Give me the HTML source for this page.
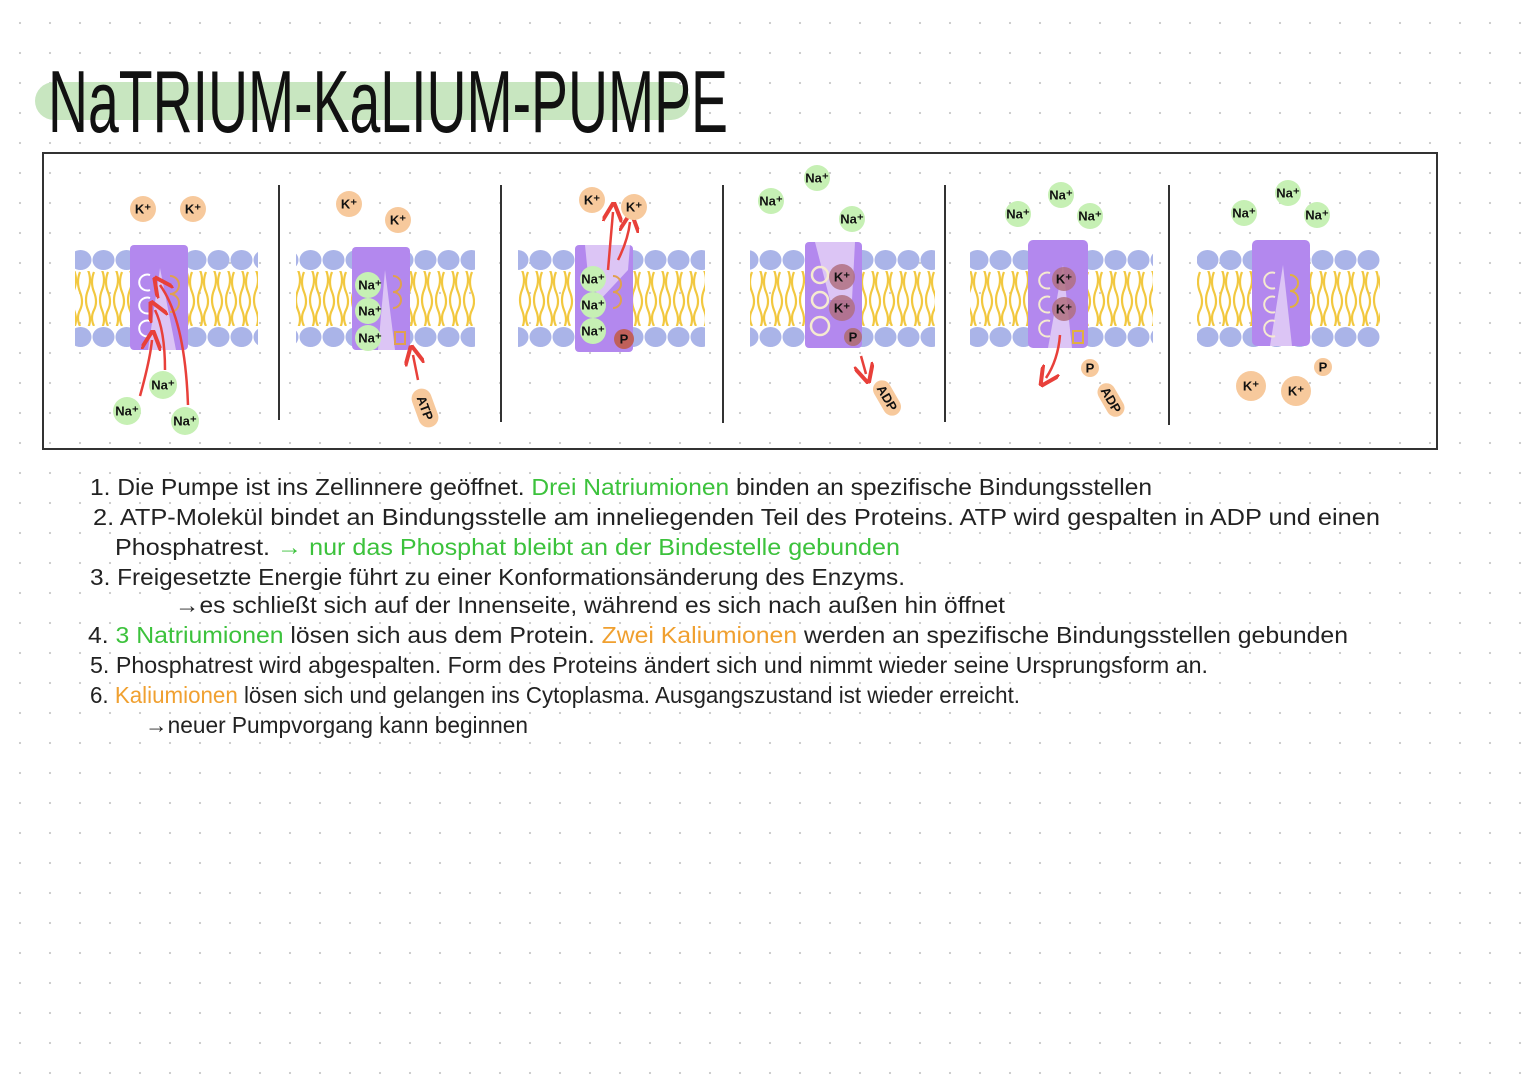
<!DOCTYPE html>
<html><head><meta charset="utf-8"><style>
html,body{margin:0;padding:0;background:#fff}
svg{display:block}
.t{font-family:"Liberation Sans",sans-serif;font-size:23px;fill:#222}
.g{fill:#3cc23c}.o{fill:#f0a030}
.i{font-family:"Liberation Sans",sans-serif;font-size:13px;font-weight:bold;fill:#111;text-anchor:middle;dominant-baseline:central}
</style></head><body>
<svg width="1525" height="1080" viewBox="0 0 1525 1080" xmlns="http://www.w3.org/2000/svg">
<defs>
<pattern id="dots" width="30" height="30" patternUnits="userSpaceOnUse" x="5" y="8"><circle cx="15" cy="15" r="1.1" fill="#c8c8c8"/></pattern>
<pattern id="headsT" width="23" height="22" patternUnits="userSpaceOnUse" y="249"><ellipse cx="11.5" cy="11" rx="11" ry="10" fill="#aab4e8"/></pattern>
<pattern id="headsB" width="23" height="22" patternUnits="userSpaceOnUse" y="326"><ellipse cx="11.5" cy="11" rx="11" ry="10" fill="#aab4e8"/></pattern>
<pattern id="tails" width="14" height="58" patternUnits="userSpaceOnUse" y="270"><path d="M4 0 q4 10 0 20 q-4 10 0 20 q4 10 0 18 M10 2 q-4 10 0 20 q4 10 0 18 q-4 8 0 16" stroke="#f2c840" stroke-width="2.2" fill="none"/></pattern>
<marker id="ar" markerWidth="8" markerHeight="8" refX="4" refY="4" orient="auto"><path d="M0 0 L8 4 L0 8" fill="none" stroke="#e8403a" stroke-width="1.6"/></marker>
</defs>
<rect width="1525" height="1080" fill="url(#dots)"/>
<!-- title -->
<rect x="35" y="82" width="655" height="38" rx="19" fill="#c8e6c0"/>
<text x="48" y="132" font-family="Liberation Sans, sans-serif" font-size="88" fill="#111" textLength="680" lengthAdjust="spacingAndGlyphs">NaTRIUM-KaLIUM-PUMPE</text>
<!-- box -->
<rect x="43" y="153" width="1394" height="296" fill="none" stroke="#333" stroke-width="2"/>
<g stroke="#333" stroke-width="2"><line x1="279" y1="185" x2="279" y2="420"/><line x1="501" y1="185" x2="501" y2="422"/><line x1="723" y1="185" x2="723" y2="423"/><line x1="945" y1="185" x2="945" y2="422"/><line x1="1169" y1="185" x2="1169" y2="425"/></g>
<!-- membranes -->
<g>
<rect x="75" y="249" width="183" height="22" fill="url(#headsT)"/><rect x="75" y="326" width="183" height="22" fill="url(#headsB)"/><rect x="75" y="271" width="183" height="55" fill="url(#tails)"/>
<rect x="296" y="249" width="179" height="22" fill="url(#headsT)"/><rect x="296" y="326" width="179" height="22" fill="url(#headsB)"/><rect x="296" y="271" width="179" height="55" fill="url(#tails)"/>
<rect x="518" y="249" width="187" height="22" fill="url(#headsT)"/><rect x="518" y="326" width="187" height="22" fill="url(#headsB)"/><rect x="518" y="271" width="187" height="55" fill="url(#tails)"/>
<rect x="750" y="249" width="185" height="22" fill="url(#headsT)"/><rect x="750" y="326" width="185" height="22" fill="url(#headsB)"/><rect x="750" y="271" width="185" height="55" fill="url(#tails)"/>
<rect x="970" y="249" width="183" height="22" fill="url(#headsT)"/><rect x="970" y="326" width="183" height="22" fill="url(#headsB)"/><rect x="970" y="271" width="183" height="55" fill="url(#tails)"/>
<rect x="1197" y="249" width="183" height="22" fill="url(#headsT)"/><rect x="1197" y="326" width="183" height="22" fill="url(#headsB)"/><rect x="1197" y="271" width="183" height="55" fill="url(#tails)"/>
</g>
<!-- panel 1 -->
<rect x="130" y="245" width="58" height="105" rx="4" fill="#b388ee"/>
<path d="M160 268 L148 350 L176 350 Z" fill="#dcc5f5"/>
<g fill="none" stroke="#fff" stroke-width="2"><path d="M150 275 a8 8 0 1 0 0 15"/><path d="M150 298 a8 8 0 1 0 0 15"/><path d="M150 321 a8 8 0 1 0 0 15"/></g>
<g fill="none" stroke="#e0a050" stroke-width="2"><path d="M170 276 a9 9 0 1 1 0 18 a9 9 0 1 1 0 18"/></g>
<g stroke="#e8403a" stroke-width="2.5" fill="none"><path d="M140 396 Q150 360 152 340" marker-end="url(#ar)"/><path d="M165 370 Q165 330 155 310" marker-end="url(#ar)"/><path d="M188 405 Q185 320 160 285" marker-end="url(#ar)"/></g>
<circle cx="143" cy="209" r="13" fill="#f7c99c"/><text class="i" x="143" y="209">K⁺</text>
<circle cx="193" cy="209" r="13" fill="#f7c99c"/><text class="i" x="193" y="209">K⁺</text>
<circle cx="127" cy="411" r="14" fill="#c6f0b4"/><text class="i" x="127" y="411">Na⁺</text>
<circle cx="163" cy="385" r="14" fill="#c6f0b4"/><text class="i" x="163" y="385">Na⁺</text>
<circle cx="185" cy="421" r="14" fill="#c6f0b4"/><text class="i" x="185" y="421">Na⁺</text>
<!-- panel 2 -->
<rect x="352" y="247" width="58" height="103" rx="4" fill="#b388ee"/>
<path d="M385 270 L378 350 L395 350 Z" fill="#dcc5f5"/>
<circle cx="368" cy="285" r="13" fill="#c6f0b4"/><text class="i" x="370" y="285">Na⁺</text>
<circle cx="368" cy="311" r="13" fill="#c6f0b4"/><text class="i" x="370" y="311">Na⁺</text>
<circle cx="368" cy="338" r="13" fill="#c6f0b4"/><text class="i" x="370" y="338">Na⁺</text>
<path d="M393 276 a8 8 0 1 1 0 16 a8 8 0 1 1 0 16" fill="none" stroke="#e0a050" stroke-width="2"/>
<rect x="395" y="332" width="10" height="12" fill="none" stroke="#e0a050" stroke-width="2"/>
<path d="M418 380 L413 355" stroke="#e8403a" stroke-width="2.5" marker-end="url(#ar)"/>
<circle cx="349" cy="204" r="13" fill="#f7c99c"/><text class="i" x="349" y="204">K⁺</text>
<circle cx="398" cy="220" r="13" fill="#f7c99c"/><text class="i" x="398" y="220">K⁺</text>
<g transform="translate(425,408) rotate(70)"><rect x="-20" y="-10" width="40" height="20" rx="10" fill="#f7c99c"/><text class="i" x="0" y="0">ATP</text></g>
<!-- panel 3 -->
<rect x="575" y="245" width="58" height="107" rx="4" fill="#b388ee"/>
<path d="M585 245 L630 245 L628 270 L600 300 L588 275 Z" fill="#dcc5f5"/>
<circle cx="593" cy="279" r="13" fill="#c6f0b4"/><text class="i" x="593" y="279">Na⁺</text>
<circle cx="593" cy="305" r="13" fill="#c6f0b4"/><text class="i" x="593" y="305">Na⁺</text>
<circle cx="593" cy="331" r="13" fill="#c6f0b4"/><text class="i" x="593" y="331">Na⁺</text>
<path d="M613 276 a8 8 0 1 1 0 16 a8 8 0 1 1 0 16" fill="none" stroke="#e0a050" stroke-width="2"/>
<circle cx="624" cy="339" r="10" fill="#c0605a"/><text class="i" x="624" y="339">P</text>
<g stroke="#e8403a" stroke-width="2.5" fill="none"><path d="M608 270 L613 212" marker-end="url(#ar)"/><path d="M618 260 Q628 240 630 222" marker-end="url(#ar)"/></g>
<circle cx="592" cy="200" r="13" fill="#f7c99c"/><text class="i" x="592" y="200">K⁺</text>
<circle cx="634" cy="207" r="13" fill="#f7c99c"/><text class="i" x="634" y="207">K⁺</text>
<!-- panel 4 -->
<rect x="805" y="242" width="57" height="106" rx="4" fill="#b388ee"/>
<path d="M815 242 L855 242 L852 300 L830 300 Z" fill="#dcc5f5"/>
<g fill="none" stroke="#f5ead0" stroke-width="2.5"><circle cx="820" cy="275" r="8"/><circle cx="820" cy="300" r="8"/><circle cx="820" cy="326" r="9"/></g>
<circle cx="842" cy="277" r="13" fill="#b07080" opacity="0.85"/><text class="i" x="842" y="277">K⁺</text>
<circle cx="842" cy="308" r="13" fill="#b07080" opacity="0.85"/><text class="i" x="842" y="308">K⁺</text>
<circle cx="853" cy="337" r="9" fill="#b07080"/><text class="i" x="853" y="337">P</text>
<path d="M861 356 L866 374" stroke="#e8403a" stroke-width="2.5" marker-end="url(#ar)"/>
<g transform="translate(887,398) rotate(60)"><rect x="-19" y="-9" width="38" height="18" rx="9" fill="#f7c99c"/><text class="i" x="0" y="0">ADP</text></g>
<circle cx="771" cy="201" r="13" fill="#c6f0b4"/><text class="i" x="771" y="201">Na⁺</text>
<circle cx="817" cy="178" r="13" fill="#c6f0b4"/><text class="i" x="817" y="178">Na⁺</text>
<circle cx="852" cy="219" r="13" fill="#c6f0b4"/><text class="i" x="852" y="219">Na⁺</text>
<!-- panel 5 -->
<rect x="1028" y="240" width="60" height="108" rx="5" fill="#b388ee"/>
<path d="M1063 265 L1048 348 L1072 348 Z" fill="#dcc5f5"/>
<g fill="none" stroke="#f5ead0" stroke-width="2"><path d="M1050 273 a8 8 0 1 0 0 15"/><path d="M1050 297 a8 8 0 1 0 0 15"/><path d="M1050 321 a8 8 0 1 0 0 15"/></g>
<circle cx="1064" cy="279" r="12" fill="#b07080" opacity="0.85"/><text class="i" x="1064" y="279">K⁺</text>
<circle cx="1064" cy="309" r="12" fill="#b07080" opacity="0.85"/><text class="i" x="1064" y="309">K⁺</text>
<rect x="1073" y="331" width="10" height="12" fill="none" stroke="#e0b040" stroke-width="2"/>
<path d="M1060 335 Q1058 360 1046 378" stroke="#e8403a" stroke-width="2.5" fill="none" marker-end="url(#ar)"/>
<circle cx="1090" cy="368" r="9" fill="#f7c99c"/><text class="i" x="1090" y="368">P</text>
<g transform="translate(1111,400) rotate(60)"><rect x="-18" y="-9" width="36" height="18" rx="9" fill="#f7c99c"/><text class="i" x="0" y="0">ADP</text></g>
<circle cx="1018" cy="214" r="13" fill="#c6f0b4"/><text class="i" x="1018" y="214">Na⁺</text>
<circle cx="1061" cy="195" r="13" fill="#c6f0b4"/><text class="i" x="1061" y="195">Na⁺</text>
<circle cx="1090" cy="216" r="13" fill="#c6f0b4"/><text class="i" x="1090" y="216">Na⁺</text>
<!-- panel 6 -->
<rect x="1252" y="240" width="58" height="106" rx="5" fill="#b388ee"/>
<path d="M1283 265 L1270 346 L1292 346 Z" fill="#dcc5f5"/>
<g fill="none" stroke="#f5ead0" stroke-width="2"><path d="M1275 273 a8 8 0 1 0 0 15"/><path d="M1275 297 a8 8 0 1 0 0 15"/><path d="M1275 321 a8 8 0 1 0 0 15"/></g>
<path d="M1290 275 a8 8 0 1 1 0 16 a8 8 0 1 1 0 16" fill="none" stroke="#e0b040" stroke-width="2"/>
<circle cx="1244" cy="213" r="13" fill="#c6f0b4"/><text class="i" x="1244" y="213">Na⁺</text>
<circle cx="1288" cy="193" r="13" fill="#c6f0b4"/><text class="i" x="1288" y="193">Na⁺</text>
<circle cx="1317" cy="215" r="13" fill="#c6f0b4"/><text class="i" x="1317" y="215">Na⁺</text>
<circle cx="1251" cy="386" r="15" fill="#f7c99c"/><text class="i" x="1251" y="386">K⁺</text>
<circle cx="1296" cy="391" r="15" fill="#f7c99c"/><text class="i" x="1296" y="391">K⁺</text>
<circle cx="1323" cy="367" r="9" fill="#f7c99c"/><text class="i" x="1323" y="367">P</text>
<!-- text -->
<text class="t" x="90" y="495" textLength="1062" lengthAdjust="spacingAndGlyphs">1. Die Pumpe ist ins Zellinnere geöffnet. <tspan class="g">Drei Natriumionen</tspan> binden an spezifische Bindungsstellen</text>
<text class="t" x="93" y="525" textLength="1287" lengthAdjust="spacingAndGlyphs">2. ATP-Molekül bindet an Bindungsstelle am inneliegenden Teil des Proteins. ATP wird gespalten in ADP und einen</text>
<text class="t" x="115" y="555" textLength="785" lengthAdjust="spacingAndGlyphs">Phosphatrest. <tspan class="g">→ nur das Phosphat bleibt an der Bindestelle gebunden</tspan></text>
<text class="t" x="90" y="585" textLength="815" lengthAdjust="spacingAndGlyphs">3. Freigesetzte Energie führt zu einer Konformationsänderung des Enzyms.</text>
<text class="t" x="175" y="613" textLength="830" lengthAdjust="spacingAndGlyphs">→es schließt sich auf der Innenseite, während es sich nach außen hin öffnet</text>
<text class="t" x="88" y="643" textLength="1260" lengthAdjust="spacingAndGlyphs">4. <tspan class="g">3 Natriumionen</tspan> lösen sich aus dem Protein. <tspan class="o">Zwei Kaliumionen</tspan> werden an spezifische Bindungsstellen gebunden</text>
<text class="t" x="90" y="673" textLength="1118" lengthAdjust="spacingAndGlyphs">5. Phosphatrest wird abgespalten. Form des Proteins ändert sich und nimmt wieder seine Ursprungsform an.</text>
<text class="t" x="90" y="703" textLength="930" lengthAdjust="spacingAndGlyphs">6. <tspan class="o">Kaliumionen</tspan> lösen sich und gelangen ins Cytoplasma. Ausgangszustand ist wieder erreicht.</text>
<text class="t" x="145" y="733" textLength="383" lengthAdjust="spacingAndGlyphs">→neuer Pumpvorgang kann beginnen</text>
</svg>
</body></html>
